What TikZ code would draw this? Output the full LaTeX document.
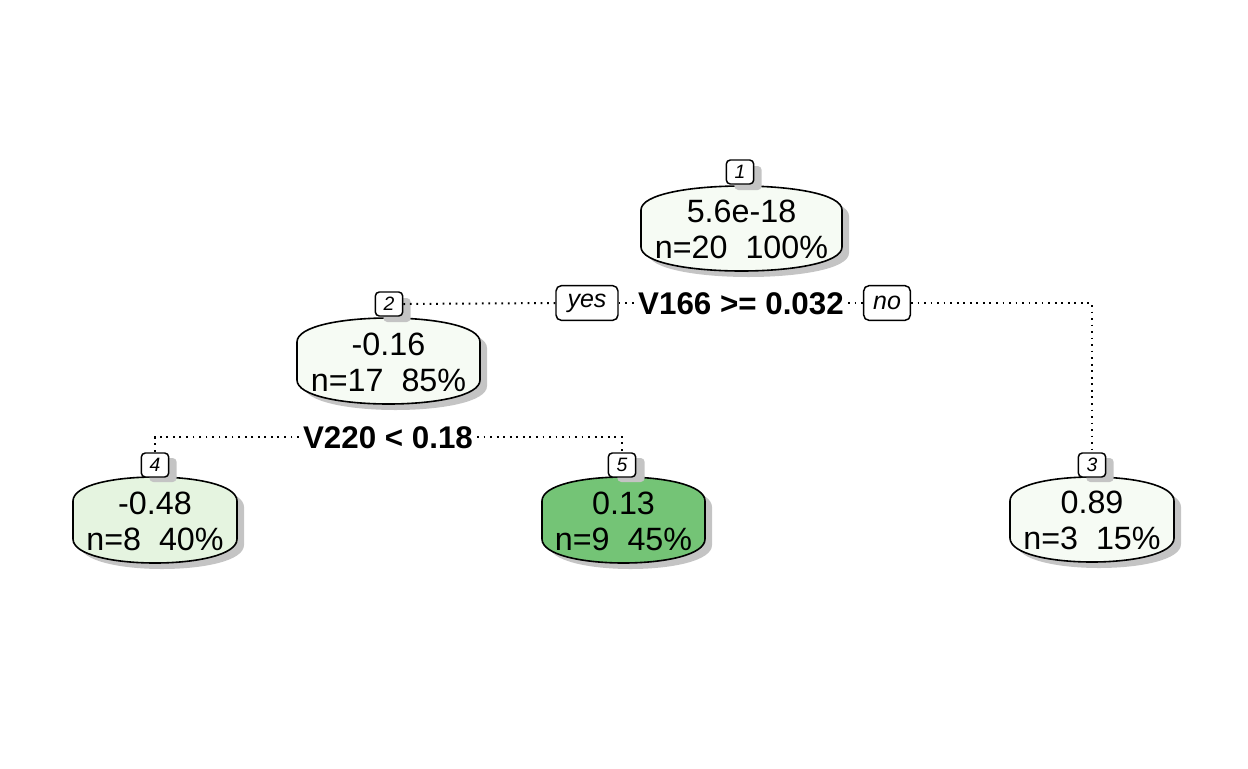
\documentclass[tikz,border=0pt]{standalone}
\usepackage{fontspec}
\setmainfont{Liberation Sans}
\definecolor{gA}{HTML}{F6FBF4}
\definecolor{gB}{HTML}{E5F4E0}
\definecolor{gC}{HTML}{74C476}
\definecolor{shd}{HTML}{C4C4C4}
\newcommand\leafpath[4]{(#1,#3+24) .. controls (#1,#3-8) and (#2,#3-8) .. (#2,#3+24) -- (#2,#4-24) .. controls (#2,#4+8) and (#1,#4+8) .. (#1,#4-24) -- cycle}
\newcommand\leafbox[5]{%
  \fill[shd, shift={(7,6)}] \leafpath{#1}{#2}{#3}{#4};
  \filldraw[fill=#5, draw=black, line width=1.2pt] \leafpath{#1}{#2}{#3}{#4};}
\begin{document}
\begin{tikzpicture}[x=0.75pt,y=-0.75pt]
\useasboundingbox (0,0) rectangle (1248,768);
\tikzset{
  numbox/.style={draw=black, line width=1.1pt, fill=white, rounded corners=3pt,
    minimum width=20.5pt, minimum height=18pt, inner sep=0pt,
    font=\fontsize{14.5}{16}\selectfont\itshape},
  numshadow/.style={fill=shd, draw=none, rounded corners=3pt,
    minimum width=20.5pt, minimum height=18pt, inner sep=0pt},
  yesno/.style={draw=black, line width=1.1pt, fill=white, rounded corners=4pt,
    minimum height=26pt, inner sep=0pt, font=\fontsize{18.75}{20}\selectfont\itshape},
  splitlab/.style={fill=white, inner sep=3pt, text height=17pt, text depth=0pt,
    font=\fontsize{23.5}{26}\bfseries},
  valtext/.style={align=center, inner sep=0pt,
    font=\fontsize{24.2}{27}\selectfont},
  dotline/.style={line width=1.5pt, dash pattern=on 1.3pt off 3.6pt, line cap=butt}
}
% shadows of node boxes and the boxes
\leafbox{641}{842}{186}{271}{gA}
\leafbox{297}{480}{318}{404}{gA}
\leafbox{73}{237}{477}{563}{gB}
\leafbox{542}{705}{477}{563}{gC}
\leafbox{1010}{1174}{477}{562}{gA}
% texts in boxes
\node[valtext] (n1) at (741.5,229.5) {5.6e-18\\n=20\hspace{0.556em}100\%};
\node[valtext] (n2) at (388.5,362) {-0.16\\n=17\hspace{0.556em}85\%};
\node[valtext] (n4) at (155,521) {-0.48\\n=8\hspace{0.556em}40\%};
\node[valtext] (n5) at (623.5,521) {0.13\\n=9\hspace{0.556em}45\%};
\node[valtext] (n3) at (1092,520.5) {0.89\\n=3\hspace{0.556em}15\%};
% split labels
\node[yesno, minimum width=46.5pt] (yes) at (587,303) {yes};
\node[yesno, minimum width=35pt] (no) at (887,303) {no};
\node[splitlab] (s1) at (741,303) {V166 >= 0.032};
\node[splitlab] (s2) at (388,437) {V220 < 0.18};
% number label shadows
\node[numshadow] at (748,178) {};
\node[numshadow] at (397,310) {};
\node[numshadow] at (163,470) {};
\node[numshadow] at (631,470) {};
\node[numshadow] at (1100,470) {};
% number labels
\node[numbox] (l1) at (740,172) {1};
\node[numbox] (l2) at (389,304) {2};
\node[numbox] (l4) at (155,465) {4};
\node[numbox] (l5) at (622,465) {5};
\node[numbox] (l3) at (1092,465) {3};
% connectors
\draw[dotline] (l2.east) -- (yes.west);
\draw[dotline] (yes.east) -- (s1.west);
\draw[dotline] (s1.east) -- (no.west);
\draw[dotline] (no.east) -| (l3.north);
\draw[dotline] (s2.west) -| (l4.north);
\draw[dotline] (s2.east) -| (l5.north);
\end{tikzpicture}
\end{document}
